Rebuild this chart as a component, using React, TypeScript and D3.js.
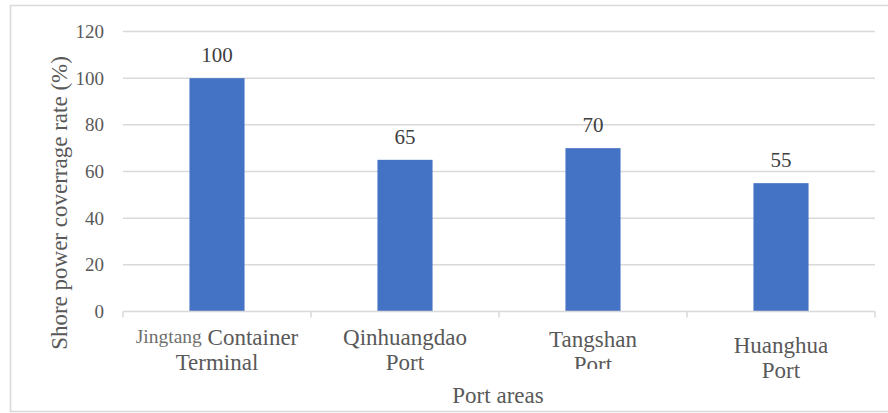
import React from "react";
import * as d3 from "d3";

// Port areas and their shore power coverage (%)
const categories = ["Jingtang Container Terminal", "Qinhuangdao Port", "Tangshan Port", "Huanghua Port"];
const categoryLines = [
  ["Jingtang Container", "Terminal"],
  ["Qinhuangdao", "Port"],
  ["Tangshan", "Port"],
  ["Huanghua", "Port"],
];
const coverage = [100, 65, 70, 55];
const yTicks = [0, 20, 40, 60, 80, 100, 120];

const W = 888;
const H = 413;
const FONT = "'Times New Roman', 'Liberation Serif', serif";

export default function App() {
  const plot = { left: 123, right: 875, top: 31.5, bottom: 311.5 };

  const x = d3.scaleBand<string>().domain(categories).range([plot.left, plot.right]).padding(0);
  const y = d3.scaleLinear().domain([0, 120]).range([plot.bottom, plot.top]);
  const barW = x.bandwidth() * 0.293;

  // per-label vertical nudges and clipping of the wrapped category labels
  const labelShift = [0, 0, 2, 8];
  const labelClip = [null, null, 369, null];

  return (
    <div style={{ position: "fixed", left: 0, top: 0, width: W, height: H, background: "#fff" }}>
      <svg width={W} height={H} style={{ display: "block", fontFamily: FONT }}>
        <defs>
          {labelClip.map((c, i) =>
            c == null ? null : (
              <clipPath id={`lab-clip-${i}`} key={i}>
                <rect x={0} y={0} width={W} height={c} />
              </clipPath>
            )
          )}
        </defs>
        <rect x={10.5} y={5.5} width={W + 10} height={406} fill="#fff" stroke="#d9d9d9" strokeWidth={1.5} />

        {/* horizontal gridlines */}
        {yTicks.filter((t) => t > 0).map((t) => (
          <line key={t} x1={plot.left} x2={plot.right} y1={y(t)} y2={y(t)} stroke="#d9d9d9" strokeWidth={1.5} />
        ))}

        {/* y tick labels */}
        {yTicks.map((t) => (
          <text key={t} x={104} y={y(t)} dy="0.34em" textAnchor="end" style={{ fontSize: "19px", fontFamily: FONT }} fill="#595959">
            {t}
          </text>
        ))}

        {/* bars and value labels */}
        {categories.map((c, i) => {
          const cx = (x(c) as number) + x.bandwidth() / 2;
          return (
            <g key={c}>
              <rect x={cx - barW / 2} y={y(coverage[i])} width={barW} height={y(0) - y(coverage[i])} fill="#4472C4" />
              <text x={cx} y={y(coverage[i]) - 16} textAnchor="middle" style={{ fontSize: "21px", fontFamily: FONT }} fill="#404040">
                {coverage[i]}
              </text>
            </g>
          );
        })}

        {/* category axis */}
        <line x1={plot.left} x2={plot.right} y1={plot.bottom} y2={plot.bottom} stroke="#d9d9d9" strokeWidth={1.5} />
        {categories.map((c) => (
          <line key={c} x1={x(c)} x2={x(c)} y1={plot.bottom} y2={plot.bottom + 6} stroke="#d9d9d9" strokeWidth={1.5} />
        ))}
        <line x1={plot.right} x2={plot.right} y1={plot.bottom} y2={plot.bottom + 6} stroke="#d9d9d9" strokeWidth={1.5} />

        {categories.map((c, i) => {
          const cx = (x(c) as number) + x.bandwidth() / 2;
          const lines = categoryLines[i];
          return (
            <g key={c} clipPath={labelClip[i] != null ? `url(#lab-clip-${i})` : undefined}>
              {lines.map((ln, j) => {
                const yy = 345 + labelShift[i] + j * 25;
                if (ln.startsWith("Jingtang ")) {
                  return (
                    <text key={j} x={cx} y={yy} textAnchor="middle" style={{ fontSize: "23px", fontFamily: FONT }} fill="#595959">
                      <tspan style={{ fontSize: "19.5px" }} fill="#6f6f6f" dy={-2}>Jingtang</tspan>
                      <tspan dy={2}>{" " + ln.slice(9)}</tspan>
                    </text>
                  );
                }
                return (
                  <text key={j} x={cx} y={yy} textAnchor="middle" style={{ fontSize: "23px", fontFamily: FONT }} fill="#595959">
                    {ln}
                  </text>
                );
              })}
            </g>
          );
        })}

        {/* axis titles */}
        <text x={498} y={403} textAnchor="middle" style={{ fontSize: "23px", fontFamily: FONT }} fill="#595959">
          Port areas
        </text>
        <text
          transform={`translate(67,203) rotate(-90)`}
          textAnchor="middle"
          style={{ fontSize: "23px", fontFamily: FONT }}
          fill="#595959"
        >
          Shore power coverrage rate (%)
        </text>
      </svg>
    </div>
  );
}
